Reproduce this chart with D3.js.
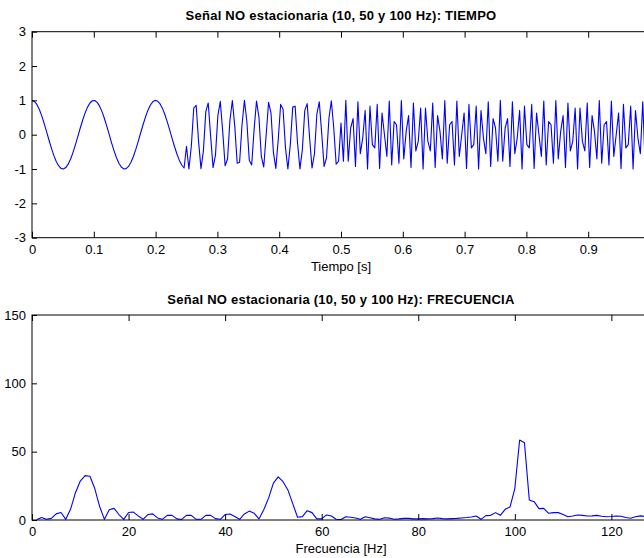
<!DOCTYPE html>
<html><head><meta charset="utf-8">
<script src="https://cdn.jsdelivr.net/npm/d3@7"></script>
<style>
body{margin:0;background:#fff}
svg{display:block}
text{font-family:"Liberation Sans",Arial,Helvetica,sans-serif}
</style>
</head><body>
<svg id="c" width="644" height="558"></svg>
<script>
// ---------- DATA ----------
const sampleRate = 256; // samples per second
// 10 Hz part of the signal
const seg10Hz = [1,0.970,0.882,0.741,0.556,0.337,0.098,-0.147,-0.383,-0.596,-0.773,-0.904,-0.981,-0.999,-0.957,-0.858,-0.707,-0.514,-0.290,-0.049,0.195,0.428,0.634,0.803,0.924,0.989,0.995,0.942,0.831,0.672,0.471,0.243,0,-0.243,-0.471,-0.672,-0.831,-0.942,-0.995,-0.989,-0.924,-0.803,-0.634,-0.428,-0.195,0.049,0.290,0.514,0.707,0.858,0.957,0.999,0.981,0.904,0.773,0.596,0.383,0.147,-0.098,-0.337,-0.556,-0.741,-0.882,-0.970];
// 50 Hz part
const seg50Hz = [-0.337,-1,-0.337,0.773,0.858,-0.195,-0.989,-0.471,0.672,0.924,-0.049,-0.957,-0.596,0.556,0.970,0.098,-0.904,-0.707,0.428,0.995,0.243,-0.831,-0.803,0.290,0.999,0.383,-0.741,-0.882,0.147,0.981,0.514,-0.634,-0.942,0,0.942,0.634,-0.514,-0.981,-0.147,0.882,0.741,-0.383,-0.999,-0.290,0.803,0.831,-0.243,-0.995,-0.428,0.707,0.904,-0.098,-0.970,-0.556,0.596,0.957,0.049,-0.924,-0.672,0.471,0.989,0.195,-0.858,-0.773,0.337];
// 100 Hz part
const seg100Hz = [-0.773,
 1,-0.773,0.195,0.471,-0.924,0.957,-0.556,-0.098,0.707,-0.995,0.831,-0.290,-0.383,0.882,-0.981,0.634,
 0,-0.634,0.981,-0.882,0.383,0.290,-0.831,0.995,-0.707,0.098,0.556,-0.957,0.924,-0.471,-0.195,0.773,
 -1,0.773,-0.195,-0.471,0.924,-0.957,0.556,0.098,-0.707,0.995,-0.831,0.290,0.383,-0.882,0.981,-0.634,
 0,0.634,-0.981,0.882,-0.383,-0.290,0.831,-0.995,0.707,-0.098,-0.556,0.957,-0.924,0.471,0.195,-0.773,
 1,-0.773,0.195,0.471,-0.924,0.957,-0.556,-0.098,0.707,-0.995,0.831,-0.290,-0.383,0.882,-0.981,0.634,
 0,-0.634,0.981,-0.882,0.383,0.290,-0.831,0.995,-0.707,0.098,0.556,-0.957,0.924,-0.471,-0.195,0.773,
 -1,0.773,-0.195,-0.471,0.924,-0.957,0.556,0.098,-0.707,0.995,-0.831,0.290,0.383,-0.882,0.981,-0.634,
 0,0.634,-0.981,0.882,-0.383,-0.290,0.831,-0.995,0.707,-0.098,-0.556,0.957,-0.924,0.471,0.195,-0.773];
// magnitude spectrum, bins 1..128 Hz
const spectrum = [0.3,1.8,0.5,1.2,4.5,5.5,0.5,8,20,28.5,
 32.5,32,23,10,0.5,7.5,8.5,4,0.5,5.5,
 5.8,3,0.5,4,4.5,1.5,0.5,3.4,3.4,0.8,
 0.4,3.4,3.4,0.5,0.5,3.4,3.4,1,0.5,4,
 4.4,2.5,0.5,4.4,6.5,5,0.8,7.5,16,27,
 31.5,28,22,12,2,2.5,6.8,5.4,0.8,0.8,
 3.7,2.9,0.5,0.3,2.4,2,1.5,0.5,2.4,1.7,
 0.8,0.5,1.6,1.4,0.6,0.8,1.2,1.2,0.8,0.8,
 1,0.8,1,1.5,1,0.8,1,1.2,1.5,1.8,
 2.2,2.9,0.5,3.2,3.4,5.4,3.4,7.8,9.5,23,
 58.5,56.5,14.6,13.4,8.3,8.5,4.9,5.4,5.4,4,
 2.4,2.9,3.7,3.4,2.9,3,3.4,2.8,2.4,2.6,
 2.9,2.7,1.8,1.3,2.4,3,2.5,2];
const timeTicks = [0,0.1,0.2,0.3,0.4,0.5,0.6,0.7,0.8,0.9,1];
const ampTicks = [-3,-2,-1,0,1,2,3];
const freqTicks = [0,20,40,60,80,100,120];
const magTicks = [0,50,100,150];
const titleTime = "Señal NO estacionaria (10, 50 y 100 Hz): TIEMPO";
const titleFreq = "Señal NO estacionaria (10, 50 y 100 Hz): FRECUENCIA";
const xlabelTime = "Tiempo [s]";
const xlabelFreq = "Frecuencia [Hz]";

// ---------- CHART ----------
const signal = seg10Hz.concat(seg50Hz, seg100Hz);
const timeData = signal.map((v,i)=>({x:i/sampleRate, y:v}));
const freqData = spectrum.map((v,i)=>({x:i+1, y:v}));

const svg = d3.select('#c');
svg.append('rect').attr('width',644).attr('height',558).attr('fill','#fff');

const L = 32, R = 650;
const fmt = d => String(d); // plain hyphen minus, as in the reference

function panel(cfg){
  const g = svg.append('g');
  const x = d3.scaleLinear().domain(cfg.xd).range([L,R]);
  const y = d3.scaleLinear().domain(cfg.yd).range([cfg.bottom,cfg.top]);
  const id = 'clip'+cfg.key;
  svg.append('clipPath').attr('id',id).append('rect')
    .attr('x',L).attr('y',cfg.top).attr('width',R-L).attr('height',cfg.bottom-cfg.top);
  g.append('path').datum(cfg.data)
    .attr('clip-path','url(#'+id+')')
    .attr('fill','none').attr('stroke','#0000ff').attr('stroke-width',1.1)
    .attr('stroke-linejoin','round')
    .attr('d', d3.line().x(d=>x(d.x)).y(d=>y(d.y)));
  const visibleLabel = d => (x(d) + 6 <= 644) ? fmt(d) : '';
  const ab = g.append('g').attr('transform',`translate(0,${cfg.bottom})`)
    .call(d3.axisBottom(x).tickValues(cfg.xt).tickFormat(visibleLabel).tickSizeInner(-6).tickSizeOuter(0).tickPadding(7));
  const at = g.append('g').attr('transform',`translate(0,${cfg.top})`)
    .call(d3.axisTop(x).tickValues(cfg.xt).tickFormat('').tickSizeInner(-6).tickSizeOuter(0));
  const al = g.append('g').attr('transform',`translate(${L},0)`)
    .call(d3.axisLeft(y).tickValues(cfg.yt).tickFormat(fmt).tickSizeInner(-5).tickSizeOuter(0).tickPadding(6));
  [ab,at,al].forEach(a=>{
    a.select('.domain').remove();
    a.selectAll('line').attr('stroke','#000');
    a.selectAll('text').attr('fill','#000').style('font-size','13px')
      .style('font-family','"Liberation Sans",Arial,sans-serif');
  });
  ab.selectAll('.tick').filter(function(){ return d3.select(this).select('text').text()===''; })
    .select('text').remove();
  g.append('rect').attr('x',L).attr('y',cfg.top).attr('width',R-L).attr('height',cfg.bottom-cfg.top)
    .attr('fill','none').attr('stroke','#000').attr('stroke-width',1);
  g.append('text').attr('x',(L+R)/2).attr('y',cfg.top-11.5).attr('text-anchor','middle')
    .style('font-size','13px').style('font-weight','bold').style('letter-spacing','0.25px').text(cfg.title);
  g.append('text').attr('x',(L+R)/2).attr('y',cfg.bottom+33).attr('text-anchor','middle')
    .style('font-size','13px').text(cfg.xlabel);
}

panel({key:'t', data:timeData, xd:[0,1], yd:[-3,3], top:31.7, bottom:237.7,
  xt:timeTicks, yt:ampTicks, title:titleTime, xlabel:xlabelTime});
panel({key:'f', data:freqData, xd:[0,128], yd:[0,150], top:315, bottom:520,
  xt:freqTicks, yt:magTicks, title:titleFreq, xlabel:xlabelFreq});
</script>
</body></html>
